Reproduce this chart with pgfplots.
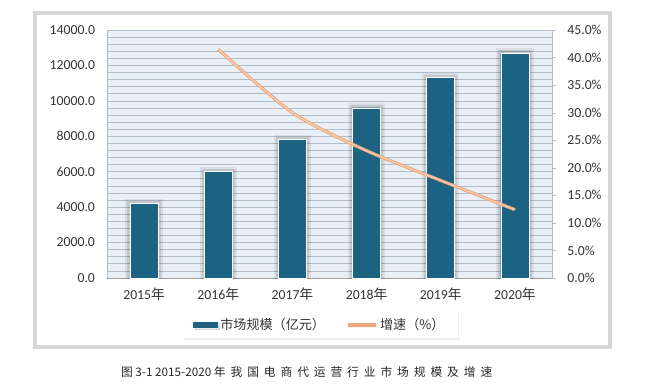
\documentclass[border=0pt]{standalone}
\usepackage{fontspec}
\setmainfont{Carlito}
\newfontfamily\cjk{Noto Sans CJK SC}
\newfontfamily\capcjk[LetterSpace=42]{Noto Sans CJK SC}
\usepackage{pgfplots}
\pgfplotsset{compat=1.18}
\usepackage{pgfplotstable}
\usetikzlibrary{shadows}

\definecolor{barc}{RGB}{28,98,130}
\definecolor{linec}{RGB}{238,168,128}
\definecolor{linein}{RGB}{250,208,180}
\definecolor{bgc}{RGB}{233,239,246}
\definecolor{gridc}{RGB}{178,188,200}
\definecolor{framec}{RGB}{214,214,214}

\pgfplotstableread{
x val
0 4200
1 6000
2 7800
3 9600
4 11300
5 12700
}\scaletab
\pgfplotstableread{
x rate
1 41.5
2 30.0
3 23.1
4 17.7
5 12.4
}\ratetab

\begin{document}
\begin{tikzpicture}
\path (0,0) rectangle (486.75pt,289.5pt);
\draw[framec, line width=2.5pt] (26.25pt,29.25pt) rectangle (457.5pt,279.75pt);
\begin{axis}[
  at={(80.25pt,81pt)}, anchor=south west, scale only axis,
  width=333.75pt, height=186pt,
  xmin=-0.5, xmax=5.5, ymin=0, ymax=14000,
  axis background/.style={fill=bgc},
  axis x line*=bottom, axis y line*=left,
  x axis line style={gray!75},
  y axis line style={gridc},
  xtick={0,...,5},
  xticklabels={2015{\cjk 年},2016{\cjk 年},2017{\cjk 年},2018{\cjk 年},2019{\cjk 年},2020{\cjk 年}},
  ytick distance=2000, minor y tick num=4,
  scaled y ticks=false,
  ymajorgrids, yminorgrids,
  major grid style={gridc, line width=0.5pt},
  minor grid style={gridc, line width=0.5pt},
  major tick length=0pt, minor tick length=0pt,
  tick label style={font=\fontsize{10.3}{12}\selectfont, text=black!80},
  /pgf/number format/fixed, /pgf/number format/fixed zerofill,
  /pgf/number format/precision=1, /pgf/number format/1000 sep={},
  /pgf/number format/assume math mode=true,
  yticklabel style={xshift=-5.5pt},
  xticklabel style={yshift=-4pt},
]
\addplot[ybar, bar width=21pt, bar shift=0pt, fill=barc, draw=white, line width=0.6pt,
  preaction={draw=black, draw opacity=0.07, line width=7pt},
  preaction={draw=black, draw opacity=0.10, line width=4pt}]
  table[x=x, y=val]{\scaletab};
\end{axis}
\begin{axis}[
  at={(80.25pt,81pt)}, anchor=south west, scale only axis,
  width=333.75pt, height=186pt,
  xmin=-0.5, xmax=5.5, ymin=0, ymax=45,
  axis x line=none, axis y line*=right,
  y axis line style={gridc},
  ytick={0,5,...,45},
  yticklabel={\pgfmathprintnumber[fixed,fixed zerofill,precision=1,assume math mode=true]{\tick}\%},
  major tick length=3pt, tick align=outside,
  tick style={gridc},
  tick label style={font=\fontsize{10.3}{12}\selectfont, text=black!80},
  yticklabel style={xshift=5pt},
  legend columns=2,
  legend style={at={(0.5,0)}, anchor=center, xshift=-7pt, yshift=-35.25pt,
    draw=none, fill=white, font=\cjk\fontsize{9.8}{11}\selectfont, text=black!80,
    inner xsep=8pt, inner ysep=3pt,
    drop shadow={shadow xshift=1pt, shadow yshift=-1pt, opacity=0.15},
    /tikz/every even column/.append style={column sep=14pt}},
]
\addlegendimage{legend image code/.code={\fill[barc] (0pt,-2pt) rectangle (18pt,2pt);}}
\addlegendentry{市场规模（亿元）}
\addplot[linec, line width=2.4pt, smooth, tension=0.45,
  legend image code/.code={\draw[linec, line width=2.4pt] (0pt,0pt) -- (21pt,0pt);}]
  table[x=x, y=rate]{\ratetab};
\addlegendentry{增速（\%）}
\addplot[linein, line width=0.8pt, smooth, tension=0.45, forget plot]
  table[x=x, y=rate]{\ratetab};
\end{axis}
\node[font=\cjk\fontsize{8.8}{10}\selectfont, text=black!85] at (230pt,10.5pt)
  {{\capcjk 图} 3-1 2015-2020 {\capcjk 年我国电商代运营行业市场规模及增速}};
\end{tikzpicture}
\end{document}
